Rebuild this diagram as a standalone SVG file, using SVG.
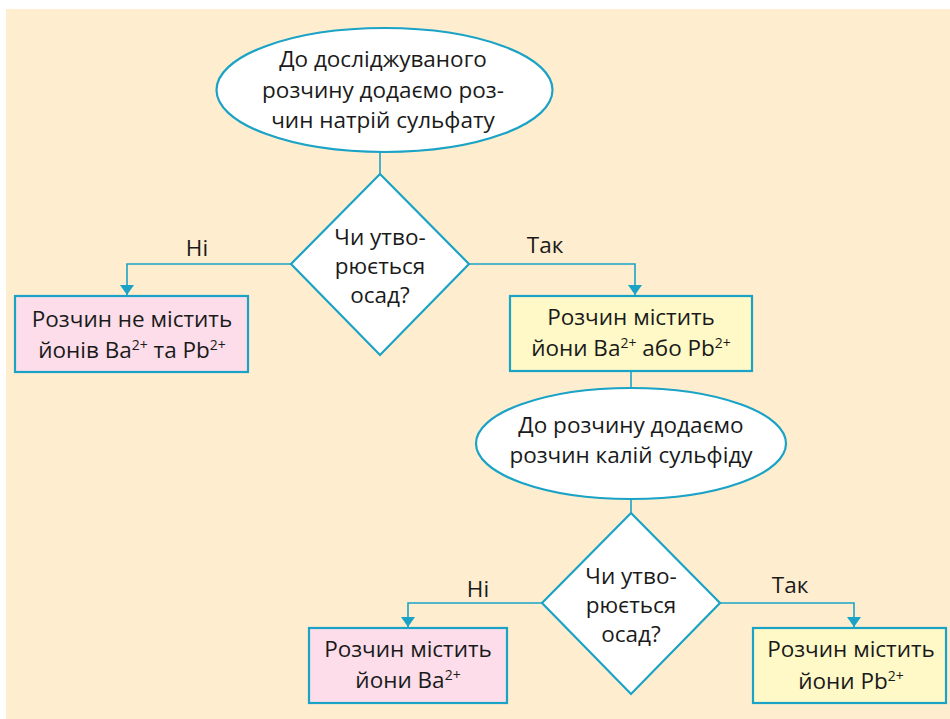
<svg xmlns="http://www.w3.org/2000/svg" width="950" height="719" viewBox="0 0 950 719">
<defs>
<marker id="arr" viewBox="0 0 10 14" refX="10" refY="7" markerWidth="10" markerHeight="14" markerUnits="userSpaceOnUse" orient="auto">
<path d="M0,0 L10,7 L0,14 Z" fill="#1aa3c6"/>
</marker>
<style>
.bg{fill:#feedcf}
.sh{stroke:#1aa3c6;stroke-width:2.2}
.w{fill:#ffffff}
.pink{fill:#fcdde9}
.yel{fill:#fef9c6}
.ln{fill:none;stroke:#1aa3c6;stroke-width:1.6}
text{font-family:"Open Sans","Noto Sans","Liberation Sans",sans-serif;font-size:22.5px;fill:#1a1a1a;text-anchor:middle}
.sup{font-size:14px}
</style>
</defs>
<rect x="0" y="0" width="950" height="719" fill="#ffffff"/>
<rect class="bg" x="6" y="9" width="944" height="710"/>

<g id="connectors">
<path class="ln" d="M380,152 V174"/>
<path class="ln" d="M291,264 H127 V295" marker-end="url(#arr)"/>
<path class="ln" d="M469,264 H635 V295" marker-end="url(#arr)"/>
<path class="ln" d="M631,371 V388"/>
<path class="ln" d="M631,499 V513"/>
<path class="ln" d="M542,603 H408 V627" marker-end="url(#arr)"/>
<path class="ln" d="M720,603 H854 V627" marker-end="url(#arr)"/>
<text x="197" y="256">Ні</text>
<text x="545" y="253">Так</text>
<text x="478" y="597">Ні</text>
<text x="790" y="593">Так</text>
</g>

<g id="start">
<ellipse class="w sh" cx="384.5" cy="90" rx="168" ry="62"/>
<text x="383" y="67">До досліджуваного</text>
<text x="383" y="98">розчину додаємо роз-</text>
<text x="383" y="128">чин натрій сульфату</text>
</g>

<g id="q1">
<polygon class="w sh" points="380,174 469,264 380,355 291,264"/>
<text x="380" y="245">Чи утво-</text>
<text x="380" y="274">рюється</text>
<text x="380" y="303">осад?</text>
</g>

<g id="no1">
<rect class="pink sh" x="15" y="296" width="233" height="76"/>
<text x="132" y="327">Розчин не містить</text>
<text x="132" y="358">йонів Ba<tspan class="sup" dy="-8">2+</tspan><tspan dy="8"> та Pb</tspan><tspan class="sup" dy="-8">2+</tspan></text>
</g>

<g id="yes1">
<rect class="yel sh" x="510" y="296" width="242" height="75"/>
<text x="631" y="325">Розчин містить</text>
<text x="631" y="356">йони Ba<tspan class="sup" dy="-8">2+</tspan><tspan dy="8"> або Pb</tspan><tspan class="sup" dy="-8">2+</tspan></text>
</g>

<g id="step2">
<ellipse class="w sh" cx="631" cy="443.5" rx="155" ry="55.5"/>
<text x="631" y="433">До розчину додаємо</text>
<text x="631" y="463">розчин калій сульфіду</text>
</g>

<g id="q2">
<polygon class="w sh" points="631,513 720,603 631,694 542,603"/>
<text x="631" y="584">Чи утво-</text>
<text x="631" y="613">рюється</text>
<text x="631" y="642">осад?</text>
</g>

<g id="no2">
<rect class="pink sh" x="309" y="628" width="198" height="75"/>
<text x="408" y="657">Розчин містить</text>
<text x="408" y="688">йони Ba<tspan class="sup" dy="-8">2+</tspan></text>
</g>

<g id="yes2">
<rect class="yel sh" x="753" y="628" width="193" height="75"/>
<text x="851" y="657">Розчин містить</text>
<text x="851" y="689">йони Pb<tspan class="sup" dy="-8">2+</tspan></text>
</g>
</svg>
